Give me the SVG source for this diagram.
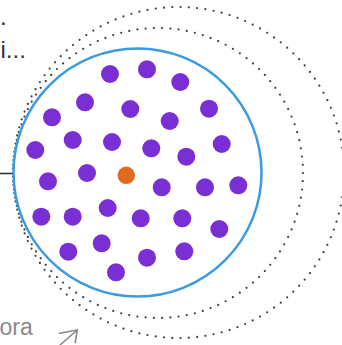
<svg xmlns="http://www.w3.org/2000/svg" width="342" height="345" viewBox="0 0 342 345">
<style>
.p{fill:#7a2fd4}
.o{fill:#e06a1f}
.ring{fill:none;stroke:#3e3e3e;stroke-width:2.2;stroke-linecap:round;stroke-dasharray:0 1}
.txt{font-family:"Liberation Sans",Arial,sans-serif}
</style>
<rect width="342" height="345" fill="#ffffff"/>
<g id="outer-ring"><circle class="ring" cx="178.5" cy="172.5" r="165.5" pathLength="125"/></g>
<g id="inner-ring"><circle class="ring" cx="158" cy="173" r="145" pathLength="110"/></g>
<g id="connectors"><line x1="0" y1="173.5" x2="13" y2="173.5" stroke="#333" stroke-width="1.6"/></g>
<g id="main-circle"><circle cx="137.5" cy="172.5" r="124" fill="none" stroke="#3b9be0" stroke-width="2.5"/></g>
<g id="points">
<circle class="p" cx="110" cy="74" r="9"/>
<circle class="p" cx="147" cy="69.3" r="9"/>
<circle class="p" cx="180.3" cy="82" r="9"/>
<circle class="p" cx="85" cy="102.3" r="9"/>
<circle class="p" cx="130.3" cy="109" r="9"/>
<circle class="p" cx="209" cy="108.7" r="9"/>
<circle class="p" cx="52" cy="117.3" r="9"/>
<circle class="p" cx="169.7" cy="121" r="9"/>
<circle class="p" cx="72.7" cy="140" r="9"/>
<circle class="p" cx="112" cy="142" r="9"/>
<circle class="p" cx="151.3" cy="148.3" r="9"/>
<circle class="p" cx="186.3" cy="156.7" r="9"/>
<circle class="p" cx="221.7" cy="144" r="9"/>
<circle class="p" cx="35.3" cy="150" r="9"/>
<circle class="p" cx="87" cy="173" r="9"/>
<circle class="p" cx="48" cy="181.3" r="9"/>
<circle class="p" cx="161.7" cy="187.3" r="9"/>
<circle class="p" cx="205" cy="187.3" r="9"/>
<circle class="p" cx="238.3" cy="185.3" r="9"/>
<circle class="p" cx="107.7" cy="208" r="9"/>
<circle class="p" cx="41.3" cy="216.7" r="9"/>
<circle class="p" cx="72.7" cy="216.7" r="9"/>
<circle class="p" cx="140.7" cy="218.3" r="9"/>
<circle class="p" cx="182.3" cy="218.3" r="9"/>
<circle class="p" cx="219.3" cy="229" r="9"/>
<circle class="p" cx="101.7" cy="243.3" r="9"/>
<circle class="p" cx="68.3" cy="251.7" r="9"/>
<circle class="p" cx="147" cy="257.7" r="9"/>
<circle class="p" cx="184.3" cy="251.3" r="9"/>
<circle class="p" cx="116" cy="272.3" r="9"/>
</g>
<g id="center-point"><circle class="o" cx="126.3" cy="175.3" r="8.7"/></g>
<g id="labels" class="txt">
<text x="0" y="24.5" font-size="24" fill="#333">.</text>
<text x="0.5" y="58" font-size="24" fill="#333">i...</text>
<text x="-0.5" y="334.7" font-size="23" fill="#8a8a8a">ora</text>
</g>
<g id="arrow-icon" fill="none" stroke="#8a8a8a" stroke-width="1.6" stroke-linecap="round" stroke-linejoin="round">
<path d="M60 345 L77.3 330"/>
<path d="M59.5 333.3 L77.3 330 L75.2 342.5"/>
</g>
</svg>
